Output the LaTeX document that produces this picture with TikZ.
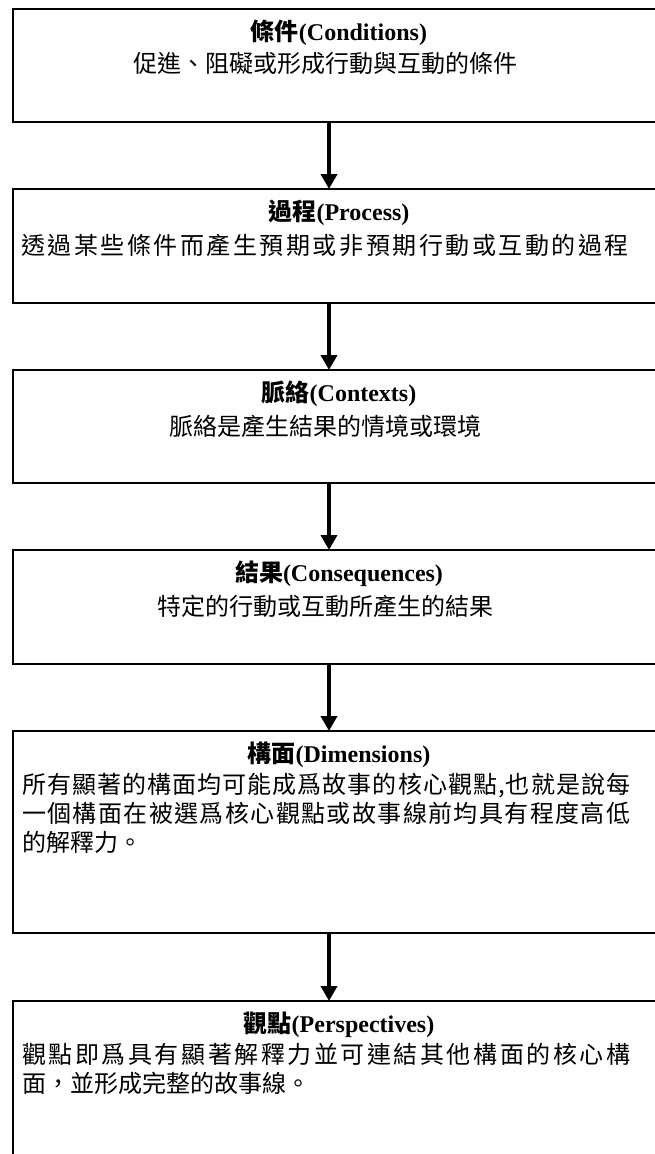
\documentclass[tikz,border=0pt]{standalone}
\usepackage{fontspec}
\setmainfont{Liberation Serif}
\newfontfamily\cjk{Noto Sans CJK TC}
\usetikzlibrary{arrows.meta}
\def\spreadchars#1{\spreadA#1\relax}
\def\spreadA#1{\ifx#1\relax\else#1\expandafter\spreadB\fi}
\def\spreadB#1{\ifx#1\relax\else\hfil#1\expandafter\spreadB\fi}
\newcommand{\fullline}[1]{\hbox to 608pt{\spreadchars{#1}}}
\tikzset{
  stagebox/.style={draw=black, line width=2pt, rectangle, anchor=north west,
    minimum width=720pt, inner sep=0pt},
  stagetitle/.style={inner sep=0pt, font=\fontsize{24}{28}\selectfont\bfseries},
  stagebody/.style={inner sep=0pt, font=\cjk\fontsize{24}{29}\selectfont},
  flow/.style={line width=4pt, -{Triangle[width=16pt,length=15pt]}, shorten >=-1pt}
}
\begin{document}
\begin{tikzpicture}[x=1pt,y=-1pt]
\useasboundingbox (0,0) rectangle (655,1154);
\clip (0,0) rectangle (655,1154);
\fill[white] (0,0) rectangle (655,1154);
% boxes
\node[stagebox, minimum height=113pt] (b1) at (12,8) {};
\node[stagebox, minimum height=114pt] (b2) at (12,188) {};
\node[stagebox, minimum height=113pt] (b3) at (12,369) {};
\node[stagebox, minimum height=114pt] (b4) at (12,549) {};
\node[stagebox, minimum height=202pt] (b5) at (12,730) {};
\node[stagebox, minimum height=240pt] (b6) at (12,1000) {};
% arrow axis
\coordinate (ax) at (329,0);
\draw[flow] (b1.south -| ax) -- (b2.north -| ax);
\draw[flow] (b2.south -| ax) -- (b3.north -| ax);
\draw[flow] (b3.south -| ax) -- (b4.north -| ax);
\draw[flow] (b4.south -| ax) -- (b5.north -| ax);
\draw[flow] (b5.south -| ax) -- (b6.north -| ax);
% titles
\node[stagetitle] (t1) at (339,33) {{\cjk 條件}(Conditions)};
\node[stagetitle] (t2) at (339,213) {{\cjk 過程}(Process)};
\node[stagetitle] (t3) at (339,394) {{\cjk 脈絡}(Contexts)};
\node[stagetitle] (t4) at (339,574) {{\cjk 結果}(Consequences)};
\node[stagetitle] (t5) at (339,755) {{\cjk 構面}(Dimensions)};
\node[stagetitle] (t6) at (339,1025) {{\cjk 觀點}(Perspectives)};
% bodies
\node[stagebody] (d1) at (325,63) {促進、阻礙或形成行動與互動的條件};
\node[stagebody] (d2) at (325,245) {\fullline{透過某些條件而產生預期或非預期行動或互動的過程}};
\node[stagebody] (d3) at (325,426) {脈絡是產生結果的情境或環境};
\node[stagebody] (d4) at (325,606) {特定的行動或互動所產生的結果};
\node[stagebody, anchor=north west, align=left] (d5) at (22,773)
  {\fullline{所有顯著的構面均可能成爲故事的核心觀點,也就是說每}\\
   \fullline{一個構面在被選爲核心觀點或故事線前均具有程度高低}\\
   的解釋力。};
\node[stagebody, anchor=north west, align=left] (d6) at (22,1043)
  {\fullline{觀點即爲具有顯著解釋力並可連結其他構面的核心構}\\
   面，並形成完整的故事線。};
\end{tikzpicture}
\end{document}
